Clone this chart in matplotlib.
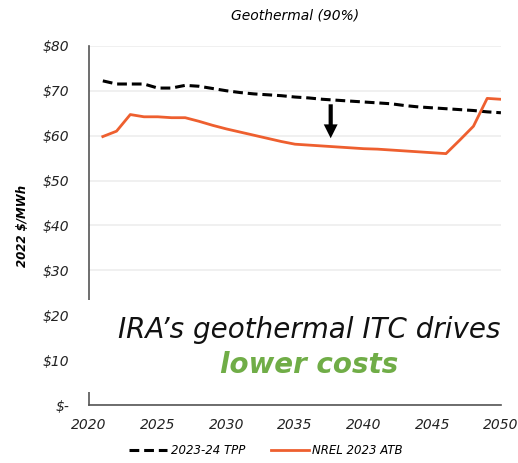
import matplotlib
matplotlib.use("Agg")
import matplotlib.pyplot as plt
from matplotlib.patches import Rectangle

# values ($/MWh, 2022 dollars)
years = list(range(2021, 2051))
tpp = [72.2, 71.5, 71.5, 71.5, 70.6, 70.6, 71.2, 71.0, 70.5, 70.0,
       69.6, 69.3, 69.1, 68.9, 68.6, 68.4, 68.1, 67.9, 67.7, 67.5,
       67.3, 67.1, 66.7, 66.4, 66.2, 66.0, 65.8, 65.6, 65.3, 65.1]
atb = [59.8, 61.0, 64.7, 64.2, 64.2, 64.0, 64.0, 63.2, 62.3, 61.5,
       60.8, 60.1, 59.4, 58.7, 58.1, 57.9, 57.7, 57.5, 57.3, 57.1,
       57.0, 56.8, 56.6, 56.4, 56.2, 56.0, 59.0, 62.1, 68.3, 68.1]
yticks = [0, 10, 20, 30, 40, 50, 60, 70, 80]
ylabels = ["$-", "$10", "$20", "$30", "$40", "$50", "$60", "$70", "$80"]
xticks = [2020, 2025, 2030, 2035, 2040, 2045, 2050]

plt.rcParams['font.family'] = ['DejaVu Sans']

fig = plt.figure(figsize=(5.18, 4.63), dpi=100)
ax = fig.add_axes([0.172, 0.125, 0.795, 0.776])

ax.plot(years, tpp, color='black', lw=2.2, ls=(0, (3.2, 1.6)), label='2023-24 TPP')
ax.plot(years, atb, color='#EE5F2F', lw=2.0, label='NREL 2023 ATB')

ax.set_xlim(2020, 2050)
ax.set_ylim(0, 80)
ax.set_yticks(yticks)
ax.set_yticklabels(ylabels)
ax.set_xticks(xticks)
ax.tick_params(length=0, labelsize=10, colors='#222222')
ax.tick_params(axis='y', pad=14)
ax.tick_params(axis='x', pad=9)
for lab in ax.get_xticklabels() + ax.get_yticklabels():
    lab.set_fontstyle('italic')

ax.yaxis.grid(True, color='#EEEEEE', lw=1.2)
ax.set_axisbelow(True)
for s in ['top', 'right']:
    ax.spines[s].set_visible(False)
ax.spines['left'].set_color('#555555')
ax.spines['bottom'].set_color('#555555')
ax.spines['left'].set_linewidth(1.2)
ax.spines['bottom'].set_linewidth(1.2)

ax.set_ylabel('2022 $/MWh', fontsize=8.5, fontweight='bold', fontstyle='italic', labelpad=10)
ax.set_title('Geothermal (90%)', fontsize=10, fontstyle='italic', pad=19)

# down arrow
ax.annotate('', xy=(2037.6, 58.8), xytext=(2037.6, 67.6),
            arrowprops=dict(arrowstyle='simple,head_width=1.0,head_length=1.0,tail_width=0.3',
                            color='black', lw=0))

# white box covering the axis behind the message
ax.add_patch(Rectangle((-0.005, 0.036), 1.02, 0.256, transform=ax.transAxes,
                       facecolor='white', edgecolor='none', zorder=3, clip_on=False))
ax.text(0.535, 0.21, "IRA\u2019s geothermal ITC drives", transform=ax.transAxes,
        ha='center', va='center', fontsize=20, fontstyle='italic', color='#111111', zorder=4)
ax.text(0.535, 0.112, "lower costs", transform=ax.transAxes,
        ha='center', va='center', fontsize=20, fontstyle='italic', fontweight='bold',
        color='#70AD47', zorder=4)

ax.legend(loc='center', bbox_to_anchor=(0.43, -0.127), ncol=2, frameon=False,
          prop={'size': 8.5, 'style': 'italic'}, handlelength=3.2, columnspacing=2.2,
          handletextpad=0.3)

fig.savefig('out.png', dpi=100)
